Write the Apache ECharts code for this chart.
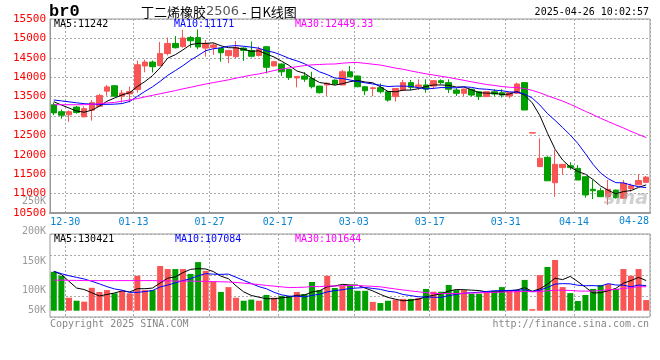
<!DOCTYPE html>
<html><head><meta charset="utf-8">
<script src="https://cdn.jsdelivr.net/npm/echarts/dist/echarts.min.js"></script>
<style>html,body{margin:0;padding:0;background:#fff}#c{width:660px;height:360px}</style>
</head><body><div id="c"></div>
<script>
const dates = ['12-26','12-27','12-30','12-31','01-02','01-03','01-06','01-07','01-08','01-09','01-10','01-13','01-14','01-15','01-16','01-17','01-20','01-21','01-22','01-23','01-24','01-27','02-05','02-06','02-07','02-10','02-11','02-12','02-13','02-14','02-17','02-18','02-19','02-20','02-21','02-24','02-25','02-26','02-27','02-28','03-03','03-04','03-05','03-06','03-07','03-10','03-11','03-12','03-13','03-14','03-17','03-18','03-19','03-20','03-21','03-24','03-25','03-26','03-27','03-28','03-31','04-01','04-02','04-03','04-07','04-08','04-09','04-10','04-11','04-14','04-15','04-16','04-17','04-18','04-21','04-22','04-23','04-24','04-25'];
const opens = [13290,13110,13030,13230,12980,13150,13250,13640,13780,13510,13570,13680,14290,14390,14300,14610,14870,14790,15020,15020,14750,14770,14745,14555,14530,14750,14690,14560,14785,14290,14340,14200,13980,14030,13970,13770,13800,13925,13800,14140,14030,13755,13710,13730,13625,13500,13670,13860,13755,13800,13770,13910,13860,13670,13585,13690,13625,13500,13625,13600,13515,13585,13860,12560,11695,11935,11280,11670,11720,11650,11435,11110,11075,10920,11090,10880,11130,11225,11290];
const closes = [13080,13020,13110,13090,13190,13340,13530,13750,13510,13590,13630,14320,14390,14270,14610,14870,14760,15010,14940,14780,14870,14830,14630,14690,14770,14690,14540,14720,14255,14400,14140,13990,14020,13950,13755,13600,13845,13825,14140,14010,13755,13650,13725,13625,13410,13710,13860,13740,13800,13690,13910,13860,13690,13585,13695,13540,13500,13625,13567,13540,13600,13825,13155,12570,11910,11330,11755,11755,11670,11350,10965,11075,10920,11110,10895,11265,11200,11335,11425];
const lows = [13020,12930,12850,13060,12960,12880,13240,13520,13500,13345,13350,13600,14125,14120,14280,14560,14740,14760,14760,14720,14530,14580,14400,14360,14490,14420,14510,14530,14100,14280,14030,13930,13740,13880,13710,13580,13515,13800,13790,14000,13740,13540,13510,13580,13370,13370,13660,13670,13670,13600,13690,13820,13590,13515,13500,13500,13410,13490,13500,13480,13455,13580,13155,12560,11695,11330,10920,11480,11615,11350,10895,10860,10915,10710,10870,10875,11050,11225,11270];
const highs = [13350,13170,13150,13260,13250,13410,13570,13800,13790,13670,13760,14430,14450,14430,14910,15020,15060,15220,15060,15230,14960,14880,14760,14700,14930,14770,14920,14790,14800,14420,14350,14210,14030,14130,14140,13780,13860,13940,14190,14290,14040,13760,13755,13840,13640,13720,13930,13930,13945,13945,13920,13945,13945,13715,13700,13700,13640,13640,13690,13690,13610,13860,13860,12570,12425,11960,12125,11760,11810,11735,11440,11350,11150,11350,11100,11350,11260,11505,11455];
const volumes = [168000,151000,56000,43000,39000,99000,81000,89000,75000,85000,75000,151000,89000,89000,193000,180000,180000,180000,159000,210000,172000,125000,81000,102000,56000,43000,48000,43000,68000,56000,64000,64000,81000,72000,124000,89000,151000,98000,107000,110000,86000,86000,38000,33000,43000,48000,51000,51000,55000,94000,82000,82000,111000,89000,89000,73000,73000,82000,86000,102000,89000,89000,133000,7000,154000,189000,219000,102000,76000,42000,68000,94000,111000,115000,94000,180000,151000,180000,46000];
// moving-average values before enough history exists
const priceMa5Head = [13368,13283,13206,13128];
const priceMa10Head = [13412,13390,13365,13340,13318,13305,13300,13300,13305];
const priceMa30Head = [13291,13291,13291,13291,13291,13299,13317,13335,13350,13381,13415,13448,13492,13533,13574,13613,13654,13701,13739,13783,13824,13860,13896,13932,13976,14015,14053,14084,14125];
const volMa5Head = [170000,156000,127000,98000];
const volMa10Head = [170000,160000,151000,144000,137000,127000,116000,104000,94000];
const volMa30Head = [132000,132000,131000,131000,130000,130000,130000,130000,130000,130000,130000,130000,130000,130000,129000,129000,128000,128000,128000,127000,127000,126000,125000,124000,122000,119000,116000,113000,109000];
const dateTicks = ['12-30','01-13','01-27','02-17','03-03','03-17','03-31','04-14'];
const nextDateTick = '04-28';
const priceMaLabels = ['MA5:11242','MA10:11171','MA30:12449.33'];
const volMaLabels = ['MA5:130421','MA10:107084','MA30:101644'];
const volTickLabels = ['200K','150K','100K','50K'];
const stackedVolLabel = '250K';
const symbolText = 'br0';
const titleName = '丁二烯橡胶', titleCode = '2506', titleTail = ' - 日K线图';
const stampText = '2025-04-26 10:02:57';
const copyText = 'Copyright 2025 SINA.COM';
const siteText = 'http://finance.sina.com.cn';

function movingAvg(vals, n, head) {
  return vals.map((v, i) => {
    if (i < n - 1) return head[i];
    let s = 0; for (let j = i - n + 1; j <= i; j++) s += vals[j];
    return +(s / n).toFixed(2);
  });
}
const UP = '#fa5555', DOWN = '#009f00';
const MONO = '"DejaVu Sans Mono", monospace';
const GRIDC = '#a8a8a8';
const candleData = dates.map((d, i) => [opens[i], closes[i], lows[i], highs[i]]);
const volData = volumes.map((v, i) => ({ value: v, itemStyle: { color: closes[i] >= opens[i] ? UP : DOWN } }));
const tickFn = (idx) => dateTicks.indexOf(dates[idx]) >= 0;
const dotted = { color: GRIDC, type: [2, 2], width: 1 };
const lineS = (name, data, color, xi, yi) => ({
  type: 'line', name, data, xAxisIndex: xi, yAxisIndex: yi, symbol: 'none', smooth: false,
  lineStyle: { color, width: 1 }, itemStyle: { color }, emphasis: { disabled: true }, silent: true, z: 5
});
const txt = (text, x, y, color, font, align) => ({
  type: 'text', silent: true, z: 100,
  style: { text, x, y, fill: color, font, textAlign: align || 'left', align: align || 'left', textVerticalAlign: 'middle', verticalAlign: 'middle' }
});

const chart = echarts.init(document.getElementById('c'), null, { renderer: 'canvas' });
chart.setOption({
  animation: false,
  backgroundColor: '#fff',
  grid: [
    { left: 50, top: 19, width: 600, height: 194, show: true, borderColor: '#999', borderWidth: 1 },
    { left: 50, top: 232, width: 600, height: 78.7 },
    { left: 50, top: 234, width: 600, height: 83, show: true, borderColor: '#999', borderWidth: 1 }
  ],
  xAxis: [
    { gridIndex: 0, type: 'category', data: dates, boundaryGap: true,
      axisLine: { show: true, lineStyle: { color: '#999', width: 2 } }, axisTick: { show: false },
      axisLabel: { interval: tickFn, color: '#0a84d0', fontFamily: MONO, fontSize: 10, margin: 4, padding: [0, 7.6, 0, 0] },
      splitLine: { show: true, interval: tickFn, lineStyle: dotted } },
    { gridIndex: 1, type: 'category', data: dates, boundaryGap: true, show: false },
    { gridIndex: 2, type: 'category', data: dates, boundaryGap: true,
      axisLine: { show: false }, axisTick: { show: false }, axisLabel: { show: false },
      splitLine: { show: true, interval: tickFn, lineStyle: dotted } }
  ],
  yAxis: [
    { gridIndex: 0, type: 'value', min: 10500, max: 15500, interval: 500, scale: false,
      axisLine: { show: true, lineStyle: { color: '#999', width: 1 } }, axisTick: { show: false },
      axisLabel: { color: '#ff0000', fontFamily: MONO, fontSize: 11, margin: 4, formatter: (v) => String(v) },
      splitLine: { show: true, lineStyle: dotted } },
    { gridIndex: 1, type: 'value', min: 0, max: 340000, show: false, splitLine: { show: false } },
    { gridIndex: 2, type: 'value', min: 0, max: 4, interval: 1,
      axisLine: { show: false }, axisTick: { show: false }, axisLabel: { show: false },
      splitLine: { show: true, lineStyle: dotted } }
  ],
  series: [
    { type: 'candlestick', data: candleData, xAxisIndex: 0, yAxisIndex: 0, barWidth: 6,
      itemStyle: { color: UP, color0: DOWN, borderColor: UP, borderColor0: DOWN, borderWidth: 1 }, z: 3 },
    lineS('MA5', movingAvg(closes, 5, priceMa5Head), '#000000', 0, 0),
    lineS('MA10', movingAvg(closes, 10, priceMa10Head), '#0000ff', 0, 0),
    lineS('MA30', movingAvg(closes, 30, priceMa30Head), '#ff00ff', 0, 0),
    { type: 'bar', data: volData, xAxisIndex: 1, yAxisIndex: 1, barWidth: 6, z: 3 },
    lineS('VMA5', movingAvg(volumes, 5, volMa5Head), '#000000', 1, 1),
    lineS('VMA10', movingAvg(volumes, 10, volMa10Head), '#0000ff', 1, 1),
    lineS('VMA30', movingAvg(volumes, 30, volMa30Head), '#ff00ff', 1, 1)
  ],
  graphic: [
    txt(symbolText, 49, 12, '#000', 'bold 17px "Liberation Mono", monospace'),
    { type: 'text', silent: true, z: 100, style: { x: 141, y: 12, textVerticalAlign: 'middle', verticalAlign: 'middle',
      rich: { a: { font: '13px "Noto Sans CJK SC"', fill: '#000' }, b: { font: '13px "DejaVu Sans"', fill: '#555' }, c: { font: '13px "Noto Sans CJK SC"', fill: '#000' } },
      text: '{a|' + titleName + '}{b|' + titleCode + '}{c|' + titleTail + '}' } },
    txt(stampText, 649, 12, '#000', '10px ' + MONO, 'right'),
    txt(priceMaLabels[0], 54, 24, '#000000', '10px ' + MONO),
    txt(priceMaLabels[1], 174, 24, '#0000ff', '10px ' + MONO),
    txt(priceMaLabels[2], 295, 24, '#ff00ff', '10px ' + MONO),
    txt(volMaLabels[0], 54, 239, '#000000', '10px ' + MONO),
    txt(volMaLabels[1], 175, 239, '#0000ff', '10px ' + MONO),
    txt(volMaLabels[2], 295, 239, '#ff00ff', '10px ' + MONO),
    txt(stackedVolLabel, 46, 201, '#999', '10px ' + MONO, 'right'),
    txt(volTickLabels[0], 46, 231, '#999', '10px ' + MONO, 'right'),
    txt(volTickLabels[1], 46, 261, '#999', '10px ' + MONO, 'right'),
    txt(volTickLabels[2], 46, 290, '#999', '10px ' + MONO, 'right'),
    txt(volTickLabels[3], 46, 310, '#999', '10px ' + MONO, 'right'),
    txt(nextDateTick, 649, 221, '#0a84d0', '10px ' + MONO, 'right'),
    txt(copyText, 50, 324, '#888', '10px ' + MONO),
    txt(siteText, 649, 324, '#888', '10px ' + MONO, 'right'),
    txt('sina', 648, 199, 'rgba(170,170,170,0.55)', 'italic bold 19px "DejaVu Sans"', 'right')
  ]
});
</script></body></html>
